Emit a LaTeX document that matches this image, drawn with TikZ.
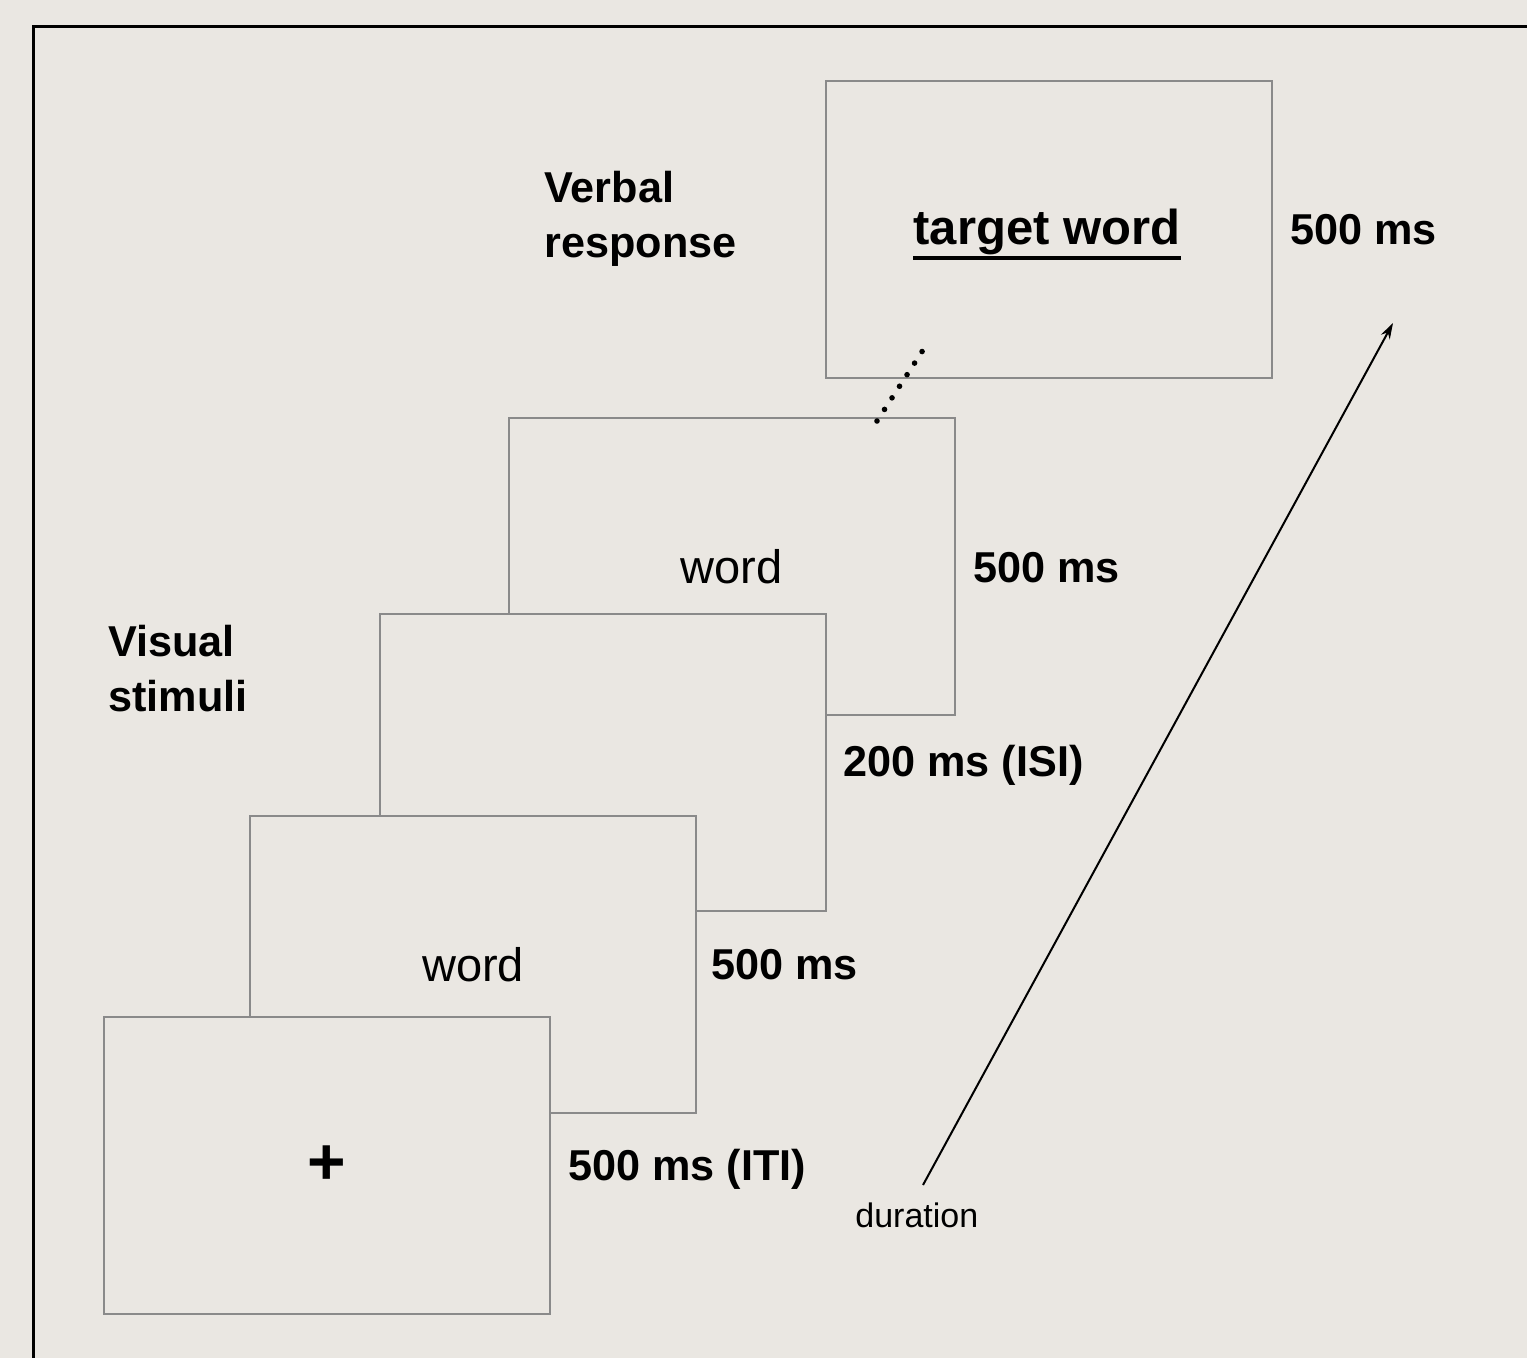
\documentclass[tikz,border=0pt]{standalone}
\usepackage{fontspec}
\setmainfont{Liberation Sans}
\usetikzlibrary{arrows.meta}
\definecolor{bg}{HTML}{EAE7E2}
\definecolor{boxline}{HTML}{8A8A8A}
\begin{document}
\begin{tikzpicture}[x={(0.5pt,0)}, y={(0,-0.5pt)},
  screen/.style={draw=boxline, line width=1pt, fill=bg, minimum width=223pt,
    minimum height=148.5pt, inner sep=0pt, outer sep=0pt},
  wordtxt/.style={font=\fontsize{23.5}{28}\selectfont},
  lbl/.style={font=\bfseries\fontsize{21.6}{27.5}\selectfont, inner sep=0pt,
    anchor=base west, align=left},
  dotline/.style={line width=2.8pt, line cap=round, dash pattern=on 0pt off 6.9pt},
  timearrow/.style={line width=1pt, -{Stealth[length=8pt,width=5pt]}}]
\useasboundingbox (0,0) rectangle (1527,1358);
\fill[bg] (0,0) rectangle (1527,1358);
% outer frame
\draw[line width=1.5pt] (33,1358) -- (33,27) -- (1527,27);

% screens, back to front
\node[screen] (s5) at (1049,229.5) {};
\node[screen, wordtxt] (s4) at (731.5,566.5) {word};
\node[screen] (s3) at (603,762.5) {};
\node[screen, wordtxt] (s2) at (473,964.5) {word};
\node[screen, font=\bfseries\fontsize{33}{38}\selectfont] (s1) at (326.5,1165.5) {+};

% target word with underline
\node[font=\bfseries\fontsize{24.5}{30}\selectfont, inner sep=0pt, anchor=base] (tw) at (1047,245) {target word};
\draw[line width=2pt] ([yshift=-6.5pt]tw.base west) -- ([yshift=-6.5pt]tw.base east);

% dotted link
\coordinate (d1) at (877,421);
\coordinate (d2) at (925,347);
\draw[dotline] (d1) -- (d2);

% labels (base anchor = last line's baseline)
\node[lbl] (verbal) at (544,258) {Verbal\\response};
\node[lbl] (visual) at (108,711) {Visual\\stimuli};
\node[lbl] (t5) at (1290,245) {500 ms};
\node[lbl] (t4) at (973,582) {500 ms};
\node[lbl] (t3) at (843,776) {200 ms (ISI)};
\node[lbl] (t2) at (711,979) {500 ms};
\node[lbl] (t1) at (568,1180) {500 ms (ITI)};

% duration arrow
\coordinate (a0) at (923,1185);
\coordinate (a1) at (1393,323);
\draw[timearrow] (a0) -- (a1);
\node[font=\fontsize{17}{20}\selectfont, inner sep=0pt, anchor=base west] (dur) at (855,1227) {duration};
\end{tikzpicture}
\end{document}
